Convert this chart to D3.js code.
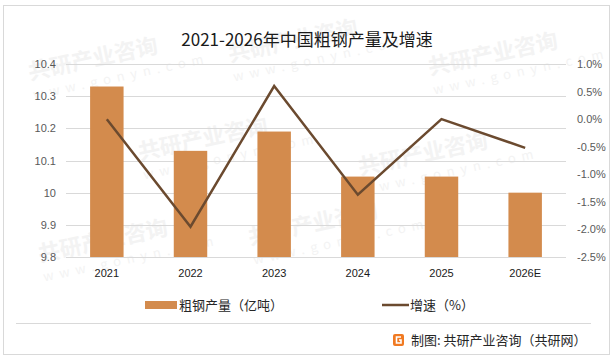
<!DOCTYPE html>
<html>
<head>
<meta charset="utf-8">
<script src="https://cdn.jsdelivr.net/npm/d3@7"></script>
<style>
body{margin:0;background:#fff;}
svg{display:block;font-family:"Microsoft YaHei","Noto Sans CJK SC","Noto Sans",sans-serif;}
</style>
</head>
<body>
<svg width="614" height="362"></svg>
<script>
var YEARS = ['2021','2022','2023','2024','2025','2026E'];
var OUTPUT = [10.33, 10.13, 10.19, 10.05, 10.05, 10.0]; //亿吨
var GROWTH = [0.0, -1.95, 0.6, -1.37, 0.0, -0.52]; //%
var LEFT_TICKS = [9.8, 9.9, 10, 10.1, 10.2, 10.3, 10.4];
var RIGHT_TICKS = [-2.5, -2.0, -1.5, -1.0, -0.5, 0.0, 0.5, 1.0];

var svg = d3.select('svg');

// frame
svg.append('rect').attr('x',3.5).attr('y',5.5).attr('width',606).attr('height',349)
	.attr('fill','none').attr('stroke','#d9d9d9');
svg.append('line').attr('x1',16).attr('x2',591).attr('y1',323.5).attr('y2',323.5)
	.attr('stroke','#d9d9d9');

// watermarks (faint) - kept inside the frame
var wm = svg.append('g').attr('fill','#f3f3f3').attr('font-weight','bold');
[[30,80],[230,62],[430,75],[140,160],[360,175],[40,262],[250,245]].forEach(function(p){
	var g = wm.append('g').attr('transform','translate('+p[0]+','+p[1]+') rotate(-12)');
	g.append('text').attr('font-size',22).text('共研产业咨询');
	g.append('text').attr('y',20).attr('font-size',13).attr('font-weight','normal').attr('letter-spacing','6px').text('www.gonyn.com');
});

var x = d3.scaleBand().domain(YEARS).range([65,567]).paddingInner(0.6).paddingOuter(0.3);
var yL = d3.scaleLinear().domain([9.8,10.4]).range([257,64]);
var yR = d3.scaleLinear().domain([-2.5,1.0]).range([257,64]);

// grid
svg.append('g').selectAll('line').data(LEFT_TICKS).enter().append('line')
	.attr('x1',66).attr('x2',566)
	.attr('y1',function(d){return Math.round(yL(d))+0.5;})
	.attr('y2',function(d){return Math.round(yL(d))+0.5;})
	.attr('stroke','#d9d9d9');

// left axis
var axL = svg.append('g').attr('transform','translate(66,0)')
	.call(d3.axisLeft(yL).tickValues(LEFT_TICKS).tickSize(0).tickPadding(10).tickFormat(function(d){return d3.format('')(+d.toFixed(1));}));
axL.select('.domain').remove();
axL.selectAll('text').attr('font-size',11).attr('fill','#595959');

// right axis
var axR = svg.append('g').attr('transform','translate(566,0)')
	.call(d3.axisRight(yR).tickValues(RIGHT_TICKS).tickSize(0).tickPadding(11).tickFormat(function(d){return d.toFixed(1)+'%';}));
axR.select('.domain').remove();
axR.selectAll('text').attr('font-size',11).attr('fill','#595959');

// x axis
var axX = svg.append('g').attr('transform','translate(0,257)')
	.call(d3.axisBottom(x).tickSize(0).tickPadding(12));
axX.select('.domain').remove();
axX.selectAll('text').attr('font-size',11).attr('fill','#1a1a1a');

// bars
svg.append('g').selectAll('rect').data(OUTPUT).enter().append('rect')
	.attr('x',function(d,i){return x(YEARS[i]);})
	.attr('width',x.bandwidth())
	.attr('y',function(d){return yL(d);})
	.attr('height',function(d){return yL(9.8)-yL(d);})
	.attr('fill','#d38b4d');

// line
var line = d3.line()
	.x(function(d,i){return x(YEARS[i])+x.bandwidth()/2;})
	.y(function(d){return yR(d);});
svg.append('path').datum(GROWTH).attr('d',line)
	.attr('fill','none').attr('stroke','#6b4a2f').attr('stroke-width',2.5);

// title
svg.append('text').attr('x',307).attr('y',46).attr('text-anchor','middle')
	.attr('font-size',17).attr('fill','#1a1a1a').text('2021-2026年中国粗钢产量及增速');

// legend
var lg = svg.append('g').attr('font-size',13).attr('fill','#262626');
lg.append('rect').attr('x',145).attr('y',301).attr('width',32).attr('height',8).attr('fill','#d38b4d');
lg.append('text').attr('x',179).attr('y',310).text('粗钢产量（亿吨）');
lg.append('line').attr('x1',382).attr('x2',409).attr('y1',305).attr('y2',305)
	.attr('stroke','#6b4a2f').attr('stroke-width',2.5);
lg.append('text').attr('x',410).attr('y',310).text('增速（%）');

// source
var src = svg.append('g');
src.append('rect').attr('x',393).attr('y',334).attr('width',11).attr('height',12).attr('rx',2).attr('fill','#f07a22');
src.append('path').attr('d','M401,337 L396.5,337 L396.5,343 L401,343 L401,340 L399,340')
	.attr('fill','none').attr('stroke','#fff').attr('stroke-width',1.6);
src.append('text').attr('x',411).attr('y',345).attr('font-size',13).attr('fill','#262626')
	.text('制图: 共研产业咨询（共研网）');
</script>
</body>
</html>
